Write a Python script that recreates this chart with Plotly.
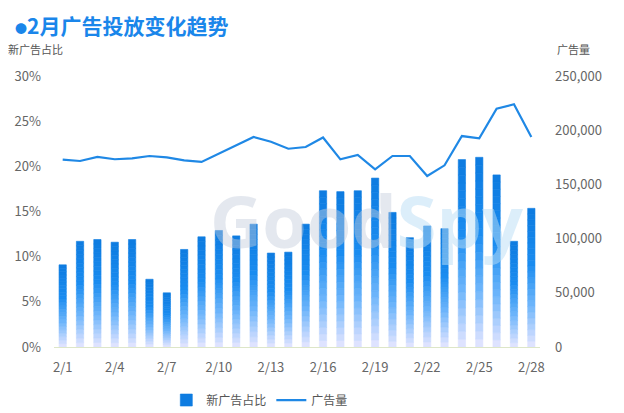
import plotly.graph_objects as go

dates = [f"2/{d}" for d in range(1, 29)]
new_ad_ratio = [9.1, 11.7, 11.9, 11.6, 11.9, 7.5, 6.0, 10.8, 12.2, 12.9, 12.3, 13.6, 10.4, 10.5,
                13.6, 17.3, 17.2, 17.3, 18.7, 14.9, 12.1, 13.4, 13.1, 20.75, 21.0, 19.05, 11.7, 15.35]
ad_volume = [172800, 171600, 175300, 173200, 174100, 176200, 175000, 172200, 170700, 178400,
             185700, 193700, 189400, 182900, 184500, 193300, 173100, 177100, 163900, 176200,
             176200, 157700, 167600, 194600, 192500, 219900, 223900, 193700]
tick_labels = [f"2/{d}" for d in range(1, 29, 3)]

ratio = [v / 100 for v in new_ad_ratio]

# gradient stops (bottom -> top)
stops = [(0.0, (230, 230, 255)), (0.3, (111, 182, 251)), (0.6, (26, 140, 240)), (1.0, (13, 123, 224))]
def grad(t):
    for (a, ca), (b, cb) in zip(stops[:-1], stops[1:]):
        if a <= t <= b:
            f = (t - a) / (b - a)
            c = [round(ca[i] + (cb[i] - ca[i]) * f) for i in range(3)]
            return f"rgb({c[0]},{c[1]},{c[2]})"
    return "rgb(13,123,224)"

N = 24
fig = go.Figure()
for k in range(N):
    col = grad((k + 0.5) / N)
    fig.add_trace(go.Bar(
        x=dates, y=[r / N for r in ratio], base=[r * k / N for r in ratio],
        marker=dict(color=col, line=dict(width=0.6, color=col)),
        width=0.42, offsetgroup="a", name="新广告占比",
        showlegend=(k == N - 1), legendgroup="bar",
    ))

fig.add_trace(go.Scatter(
    x=dates, y=ad_volume, mode="lines", name="广告量", yaxis="y2",
    line=dict(color="#1f88e5", width=2.2),
))

font_family = "Noto Sans CJK SC, Noto Sans, sans-serif"
fig.update_layout(
    width=616, height=405,
    margin=dict(l=46, r=84, t=68, b=66, autoexpand=False),
    paper_bgcolor="white", plot_bgcolor="white",
    barmode="overlay",
    font=dict(family=font_family, color="#666", size=13),
    xaxis=dict(
        type="category", tickmode="array", tickvals=tick_labels, ticktext=tick_labels,
        showgrid=False, showline=True, linecolor="#dde6c8", linewidth=1, automargin=False,
        ticks="", ticklabelstandoff=8, tickfont=dict(size=13, color="#666"),
        range=[-0.5, 27.5],
    ),
    yaxis=dict(
        range=[0, 0.30], tickvals=[0, 0.05, 0.10, 0.15, 0.20, 0.25, 0.30], tickformat=".0%",
        showgrid=False, zeroline=False, showline=False, ticklabelstandoff=12, automargin=False,
        tickfont=dict(size=13, color="#666"),
    ),
    yaxis2=dict(
        range=[0, 250000], tickvals=[0, 50000, 100000, 150000, 200000, 250000], tickformat=",",
        overlaying="y", side="right", showgrid=False, zeroline=False, showline=False,
        ticklabelstandoff=14, automargin=False, tickfont=dict(size=13, color="#666"),
    ),
    legend=dict(orientation="h", xref="container", x=0.257, xanchor="left",
                yref="container", y=0.032, yanchor="middle",
                font=dict(size=12, color="#555"), traceorder="normal"),
    showlegend=True,
)

fig.add_annotation(text="<b><span style='font-size:12px'>●</span>2月广告投放变化趋势</b>",
                   xref="paper", yref="paper", borderpad=0,
                   x=-0.082, xanchor="left", y=1.248, yanchor="top", showarrow=False,
                   font=dict(size=21, color="#1a86ea", family=font_family))
fig.add_annotation(text="新广告占比", xref="paper", yref="paper", x=-0.098, xanchor="left",
                   y=1.10, yanchor="middle", showarrow=False, font=dict(size=11, color="#555"))
fig.add_annotation(text="广告量", xref="paper", yref="paper", x=1.03, xanchor="left",
                   y=1.10, yanchor="middle", showarrow=False, font=dict(size=11, color="#555"))
fig.add_annotation(
    text="<b><span style='color:rgba(195,205,220,0.45)'>Good</span>"
         "<span style='color:rgba(185,222,245,0.5)'>Spy</span></b>",
    xref="paper", yref="paper", x=0.644, y=0.47,
    showarrow=False, font=dict(size=72, family="Open Sans, sans-serif"))

fig.write_html("out.html")
